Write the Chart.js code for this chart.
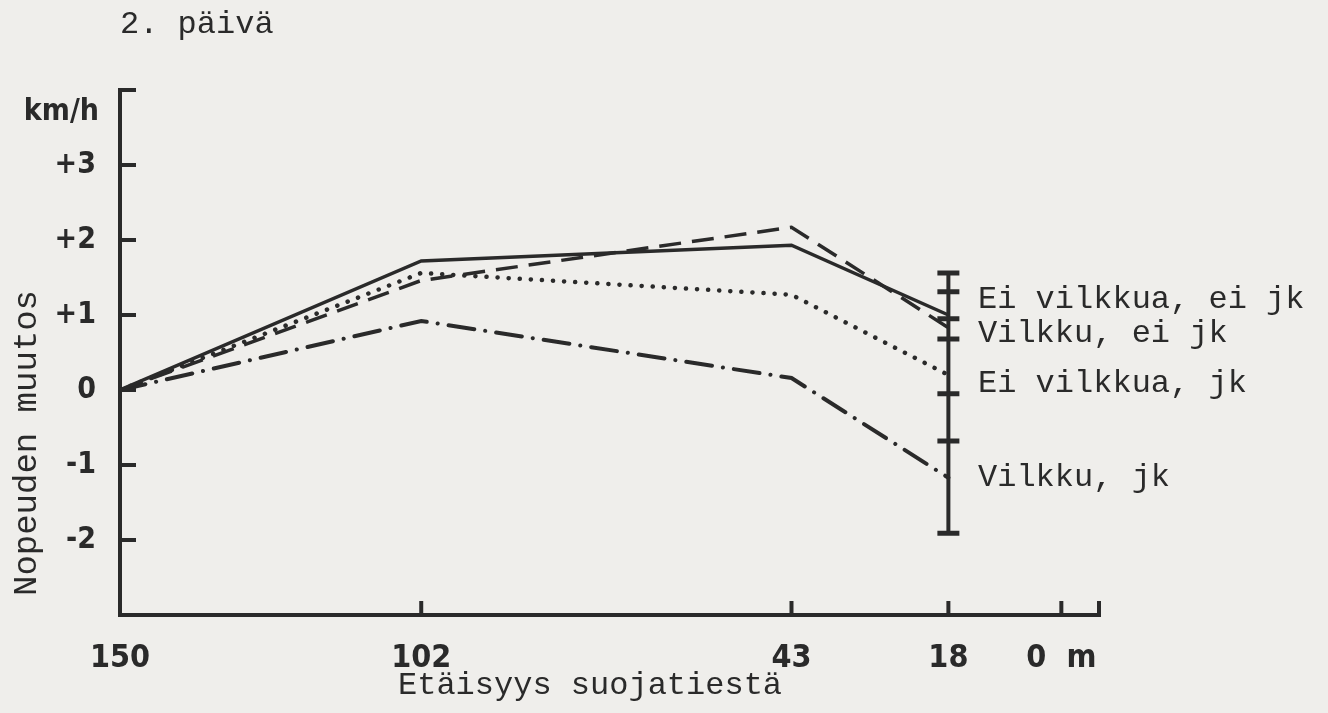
<!DOCTYPE html>
<html>
<head>
<meta charset="utf-8">
<script src="https://cdn.jsdelivr.net/npm/chart.js@4.4.1/dist/chart.umd.min.js"></script>
<style>
  html, body { margin: 0; background: #efeeeb; }
  #wrap { width: 1328px; height: 713px; position: relative; }
</style>
</head>
<body>
<div id="wrap"><canvas id="chart"></canvas></div>
<script>
// distances from the crossing (m) and speed change (km/h)
const distances = [150, 102, 43, 18];
const eiVilkkuaEiJk = [0, 1.72, 1.93, 1.0];
const vilkkuEiJk = [0, 1.46, 2.17, 0.83];
const eiVilkkuaJk = [0, 1.56, 1.27, 0.2];
const vilkkuJk = [0, 0.92, 0.16, -1.17];
const errorBarMarks = [1.56, 1.31, 0.95, 0.68, -0.05, -0.68, -1.91];
const xTicks = [150, 102, 43, 18, 0];
const yTicks = [-2, -1, 0, 1, 2, 3];
const seriesNames = ['Ei vilkkua, ei jk', 'Vilkku, ei jk', 'Ei vilkkua, jk', 'Vilkku, jk'];

const ink = '#2a2a2a';
const mono = "'Liberation Mono', 'DejaVu Sans Mono', monospace";
const narrow = "'DejaVu Sans Condensed', 'Liberation Sans Narrow', sans-serif";

const pts = vals => distances.map((d, i) => ({ x: d, y: vals[i] }));

const decor = {
    id: 'decor',
    afterDraw(chart) {
        const { ctx, scales: { x, y }, chartArea: a } = chart;
        const seg = (x1, y1, x2, y2) => { ctx.beginPath(); ctx.moveTo(x1, y1); ctx.lineTo(x2, y2); ctx.stroke(); };
        ctx.save();
        ctx.strokeStyle = ink;
        ctx.lineWidth = 4;
        // inward ticks
        yTicks.forEach(v => { const py = y.getPixelForValue(v); seg(a.left, py, a.left + 16, py); });
        seg(a.left - 2, a.top, a.left + 16, a.top);
        xTicks.slice(1).forEach(v => { const px = x.getPixelForValue(v); seg(px, a.bottom, px, a.bottom - 14); });
        seg(a.right, a.bottom + 2, a.right, a.bottom - 14);

        ctx.fillStyle = ink;
        ctx.textBaseline = 'middle';
        ctx.font = 'bold 30px ' + narrow;
        ctx.textAlign = 'right';
        ctx.fillText('km/h', 99, 112);

        ctx.font = '32px ' + mono;
        ctx.textAlign = 'left';
        ctx.fillText('2. päivä', 120, 25);

        ctx.fillText('Etäisyys suojatiestä', 398, 686);

        ctx.save();
        ctx.font = '34px ' + mono;
        ctx.textAlign = 'center';
        ctx.translate(27, 443);
        ctx.rotate(-Math.PI / 2);
        ctx.fillText('Nopeuden muutos', 0, 0);
        ctx.restore();

        // series labels at the right end
        const anchors = [1.2, 0.75, 0.09, -1.17];
        ctx.font = '32px ' + mono;
        ctx.textAlign = 'left';
        seriesNames.forEach((n, i) => ctx.fillText(n, 978, y.getPixelForValue(anchors[i])));
        ctx.restore();
    }
};

const lineBase = { borderColor: ink, pointRadius: 0, fill: false, tension: 0, showLine: true };

new Chart(document.getElementById('chart'), {
    type: 'scatter',
    data: {
        datasets: [
            { ...lineBase, label: seriesNames[0], data: pts(eiVilkkuaEiJk), borderWidth: 3.5 },
            { ...lineBase, label: seriesNames[1], data: pts(vilkkuEiJk), borderWidth: 3.5, borderDash: [22, 11] },
            { ...lineBase, label: seriesNames[2], data: pts(eiVilkkuaJk), borderWidth: 4.5, borderDash: [0.1, 11], borderCapStyle: 'round' },
            { ...lineBase, label: seriesNames[3], data: pts(vilkkuJk), borderWidth: 4, borderDash: [26, 11, 0.1, 11], borderCapStyle: 'round' },
            {
                label: 'range',
                data: errorBarMarks.map(v => ({ x: distances[3], y: v })),
                showLine: true,
                borderColor: ink,
                borderWidth: 4,
                pointStyle: 'line',
                pointRadius: 11,
                pointBorderWidth: 5,
                pointBorderColor: ink
            }
        ]
    },
    options: {
        responsive: true,
        maintainAspectRatio: false,
        animation: false,
        layout: { padding: { left: 0, top: 90, right: 229, bottom: 0 } },
        plugins: { legend: { display: false }, tooltip: { enabled: false } },
        scales: {
            x: {
                type: 'linear',
                reverse: true,
                min: -6,
                max: 150,
                afterFit: s => { s.height = 98; },
                afterBuildTicks: s => { s.ticks = xTicks.map(v => ({ value: v })); },
                grid: { display: false },
                border: { display: true, color: ink, width: 4 },
                ticks: {
                    autoSkip: false,
                    maxRotation: 0,
                    padding: 16,
                    color: ink,
                    font: { family: narrow, size: 32, weight: 'bold' },
                    callback: v => v === 0 ? '0  m' : String(v)
                }
            },
            y: {
                min: -3,
                max: 4,
                afterFit: s => { s.width = 120; },
                afterBuildTicks: s => { s.ticks = yTicks.map(v => ({ value: v })); },
                grid: { display: false },
                border: { display: true, color: ink, width: 4 },
                ticks: {
                    padding: 16,
                    color: ink,
                    font: { family: narrow, size: 30, weight: 'bold' },
                    callback: v => v > 0 ? '+' + v : String(v)
                }
            }
        }
    },
    plugins: [decor]
});
</script>
</body>
</html>
